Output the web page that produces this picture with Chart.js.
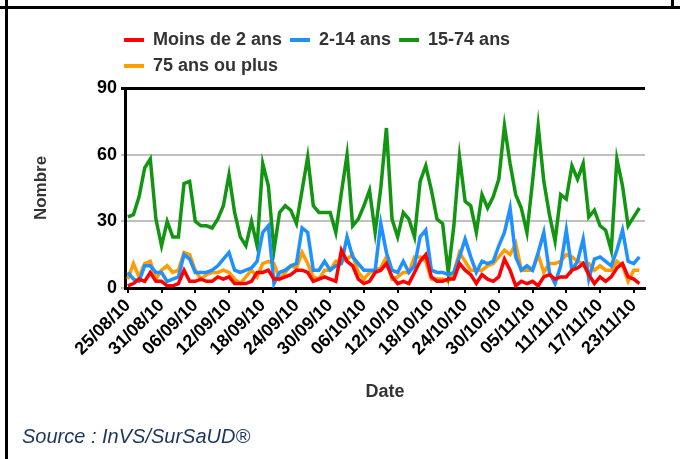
<!DOCTYPE html>
<html>
<head>
<meta charset="utf-8">
<script src="https://cdn.jsdelivr.net/npm/chart.js@4.4.0/dist/chart.umd.min.js"></script>
<style>
  body { margin: 0; background: #fff; }
  #wrap { position: relative; width: 680px; height: 459px; overflow: hidden; }
  .frame-top { position: absolute; left: 0; top: 6px; width: 680px; border-top: 3px solid #000; }
  .frame-left { position: absolute; left: 5px; top: 0; height: 459px; border-left: 3px solid #000; }
  .frame-right { position: absolute; left: 671px; top: 0; height: 8px; border-left: 3px solid #000; }
  #source { position: absolute; left: 22px; top: 425px; font: italic 20px "Liberation Sans", Arial, sans-serif; color: #1b365d; }
</style>
</head>
<body>
<div id="wrap">
  <canvas id="chart" width="680" height="459"></canvas>
  <div class="frame-top"></div>
  <div class="frame-left"></div>
  <div class="frame-right"></div>
  <div id="source">Source : InVS/SurSaUD®</div>
</div>
<script>
// un point par jour, du 25/08/10 au 24/11/10
const tickLabels = ["25/08/10", "31/08/10", "06/09/10", "12/09/10", "18/09/10", "24/09/10",
    "30/09/10", "06/10/10", "12/10/10", "18/10/10", "24/10/10", "30/10/10",
    "05/11/10", "11/11/10", "17/11/10", "23/11/10"];
const tickStep = 6; // une etiquette tous les 6 jours

const moins2ans = [1,2,4,3,7,3,3,1,1,2, 8,3,3,4,3,3,5,4,5,2, 2,2,3,7,7,8,4,4,5,6,
    8,8,7,3,4,5,4,3,17,12, 10,4,2,3,7,8,11,5,2,3, 2,7,12,15,5,3,3,4,4,11,
    8,6,2,6,4,3,5,13,8,1, 3,2,3,1,5,6,4,5,5,8, 9,11,6,2,5,3,5,9,11,5, 4,2];
const ans2a14 = [7,4,3,10,10,7,7,3,4,5, 15,13,7,7,7,8,10,13,16,8, 7,8,9,12,25,28,2,7,8,10,
    11,27,25,8,8,12,8,10,11,23, 14,11,8,8,8,29,16,8,7,12, 7,10,23,26,8,7,7,6,7,14,
    22,14,7,12,11,12,19,25,36,14, 8,10,8,16,25,7,2,10,26,8, 12,22,4,13,14,12,10,17,26,12, 11,14];
const ans15a74 = [32,33,41,54,58,31,19,30,23,23, 47,48,30,28,28,27,31,37,51,34, 23,19,30,19,56,46,17,34,37,35,
    29,44,59,37,34,34,34,25,43,60, 28,31,37,44,25,45,72,31,23,34, 31,23,48,55,44,31,29,7,28,59,
    39,37,25,42,36,41,49,73,56,42, 36,25,48,73,48,33,21,42,40,55, 49,56,32,35,28,26,17,58,46,28, 32,36];
const ans75plus = [4,11,5,11,12,4,8,10,7,8, 16,15,8,4,6,7,7,8,7,4, 2,5,8,5,11,12,11,4,7,10,
    9,16,11,5,4,8,8,12,12,13, 15,7,4,7,8,9,14,4,5,7, 7,14,14,12,4,4,4,3,7,16,
    12,8,8,8,10,11,14,17,15,20, 8,8,8,15,7,11,11,12,15,14, 12,11,11,8,10,8,8,12,10,3, 8,8];

const seriesNames = ["Moins de 2 ans", "2-14 ans", "15-74 ans", "75 ans ou plus"];
const seriesValues = [moins2ans, ans2a14, ans15a74, ans75plus];
const seriesColors = ["#ff0000", "#1e90ff", "#129612", "#ff9c00"];

const fontFamily = '"Liberation Sans", Arial, sans-serif';

function toPoints(values) {
    return values.map((v, i) => ({ x: i, y: v }));
}

// place la legende comme sur l'original (alignee a gauche sur l'axe)
const legendPlace = {
    id: "legendPlace",
    beforeDraw(chart) {
        chart.legend.left = 116;
        chart.legend.top = 23;
    }
};

const ctx = document.getElementById("chart").getContext("2d");
new Chart(ctx, {
    type: "line",
    data: {
        datasets: seriesNames.map((name, k) => ({
            label: name,
            data: toPoints(seriesValues[k]),
            borderColor: seriesColors[k],
            backgroundColor: seriesColors[k],
            borderWidth: 3.5,
            pointRadius: 0,
            tension: 0,
            fill: false
        }))
    },
    options: {
        responsive: false,
        animation: false,
        layout: { padding: { left: 31, top: 26, right: 35, bottom: 56 } },
        plugins: {
            tooltip: { enabled: false },
            legend: {
                position: "top",
                align: "start",
                fullSize: false,
                labels: {
                    boxWidth: 20,
                    boxHeight: 4,
                    padding: 8,
                    color: "#333",
                    font: { family: fontFamily, size: 18, weight: "bold" },
                    generateLabels: function (chart) {
                        const items = Chart.defaults.plugins.legend.labels.generateLabels(chart);
                        items.forEach(it => { it.lineWidth = 0; });
                        return items;
                    }
                }
            }
        },
        scales: {
            x: {
                type: "linear",
                min: -0.5,
                max: 92,
                afterBuildTicks: s => {
                    s.ticks = tickLabels.map((_, i) => ({ value: i * tickStep }));
                },
                afterFit: s => { s.height = 115; },
                ticks: {
                    autoSkip: false,
                    minRotation: 45,
                    maxRotation: 45,
                    padding: 2,
                    color: "#000",
                    font: { family: fontFamily, size: 18, weight: "bold" },
                    callback: v => tickLabels[v / tickStep]
                },
                grid: { drawOnChartArea: false, color: "#000", lineWidth: 2, tickLength: 5 },
                border: { color: "#000", width: 3 },
                title: {
                    display: true,
                    text: "Date",
                    color: "#333",
                    padding: 0,
                    font: { family: fontFamily, size: 18, weight: "bold" }
                }
            },
            y: {
                min: 0,
                max: 90,
                afterFit: s => { s.width = 94; },
                ticks: {
                    stepSize: 30,
                    padding: 4,
                    color: "#000",
                    font: { family: fontFamily, size: 18, weight: "bold" }
                },
                grid: {
                    color: c => c.tick.value === 90 ? "#000" : "#c0c0c0",
                    lineWidth: c => c.tick.value === 90 ? 3 : 2,
                    tickLength: 4
                },
                border: { color: "#000", width: 3 },
                title: {
                    display: true,
                    text: "Nombre",
                    color: "#333",
                    padding: 0,
                    font: { family: fontFamily, size: 17, weight: "bold" }
                }
            }
        }
    },
    plugins: [legendPlace]
});
</script>
</body>
</html>
